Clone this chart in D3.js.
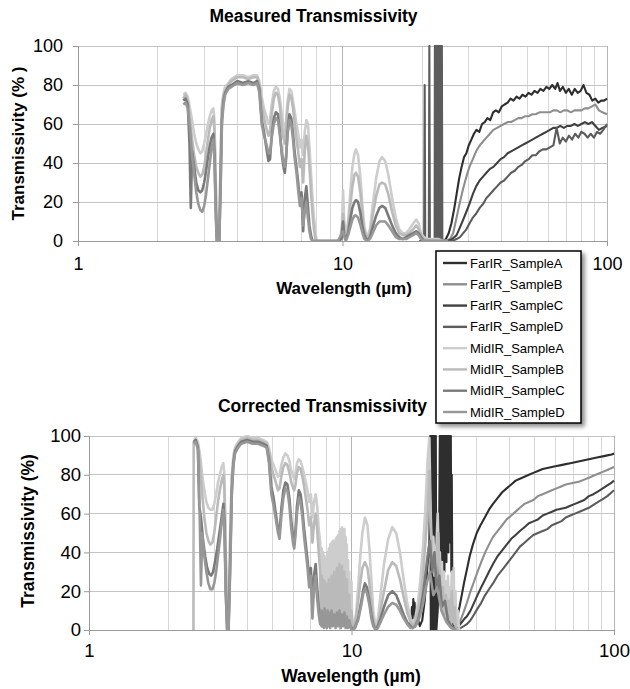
<!DOCTYPE html>
<html><head><meta charset="utf-8">
<script src="https://cdn.jsdelivr.net/npm/d3@7"></script>
<style>body{margin:0;background:#fff}svg{display:block}text{font-family:"Liberation Sans",Arial,sans-serif;fill:#000}</style>
</head><body><svg id="c" width="630" height="689"></svg>
<script>
// ---------------- DATA ----------------
const seriesNames = ["FarIR_SampleA","FarIR_SampleB","FarIR_SampleC","FarIR_SampleD","MidIR_SampleA","MidIR_SampleB","MidIR_SampleC","MidIR_SampleD"];
const xTickValues = [1, 10, 100];
const yTickValues = [0, 20, 40, 60, 80, 100];
const chartTitles = ["Measured Transmissivity", "Corrected Transmissivity"];
const xAxisTitle = "Wavelength (µm)";
const yAxisTitles = ["Transmissivity (% )", "Transmissivity (%)"];

// Measured: [wavelength µm, transmissivity %]
const measFarA = [[24.0,0],[24.6,1],[25.2,4],[25.8,9],[26.4,16],[27.0,24],[27.6,32],[28.2,38],[28.8,43],[29.4,45],[30.0,49],[30.7,52],[31.4,55],[32.1,57],[32.9,56],[33.7,60],[34.5,61],[35.3,63],[36.2,62],[37.1,66],[38.0,67],[39.0,66],[40.0,69],[41.0,70],[42.1,71],[43.2,73],[44.3,72],[45.5,74],[46.7,73],[47.9,75],[49.2,74],[50.5,76],[51.8,75],[53.2,77],[54.6,76],[56.0,78],[57.5,77],[59.0,79],[60.5,78],[62.1,80],[63.7,78],[65.0,81],[66.4,77],[68.1,79],[69.9,76],[71.7,78],[73.6,75],[75.5,78],[77.5,76],[79.5,77],[81.5,80],[83.6,76],[85.8,75],[88.0,72],[90.3,73],[92.7,71],[95.1,72],[97.5,72],[100,73]];
const measFarB = [[24.5,0],[25.5,1],[26.2,4],[27.0,12],[27.8,20],[28.6,27],[29.4,33],[30.2,38],[31.1,42],[32.0,46],[33.0,49],[34.0,51],[35.0,53],[36.1,55],[37.2,57],[38.4,58],[39.6,59],[40.8,60],[42.1,61],[43.4,61],[44.8,62],[46.2,63],[47.6,63],[49.1,64],[50.6,64],[52.2,65],[53.8,65],[55.5,66],[57.2,66],[59.0,66],[60.8,66],[62.7,67],[64.6,67],[66.6,66],[68.7,67],[70.8,67],[73.0,66],[75.3,67],[77.6,67],[80.0,67],[82.5,68],[85.0,68],[87.7,69],[90.4,70],[93.2,67],[96.1,66],[100,65]];
const measFarC = [[25,0],[26,1],[27,3],[27.8,7],[28.6,11],[29.4,15],[30.2,19],[31.1,24],[32,28],[33,31],[34,33],[35,35],[36.1,37],[37.2,38],[38.4,40],[39.6,42],[40.8,43],[42.1,45],[43.4,46],[44.8,47],[46.2,48],[47.6,49],[49.1,50],[50.6,51],[52.2,52],[53.8,53],[55.5,54],[57.2,55],[59,56],[60.8,57],[62.7,58],[64.6,58],[66.6,59],[68.7,58],[70.8,59],[73,59],[75.3,60],[77.6,59],[80,60],[82.5,61],[85,60],[87.7,61],[90.4,59],[93.2,57],[96.1,58],[100,59]];
const measFarD = [[19.5,0],[20.35,0],[20.45,80],[20.55,0],[21.2,0],[21.3,100],[21.4,0],[22.3,0],[22.35,100],[22.45,0],[22.55,100],[22.65,0],[22.75,100],[22.85,0],[22.95,100],[23.05,0],[23.15,100],[23.25,0],[23.35,100],[23.45,0],[23.55,100],[23.65,0],[23.75,100],[23.85,0],[25,0],[26,0],[27,1],[27.8,2],[28.6,4],[29.4,6],[30.2,9],[31.1,12],[32,14],[33,17],[34,19],[35,22],[36.1,24],[37.2,26],[38.4,28],[39.6,30],[40.8,31],[42.1,33],[43.4,35],[44.8,36],[46.2,38],[47.6,39],[49.1,41],[50.6,42],[52.2,44],[53.8,44],[55.5,46],[57.2,47],[59,47],[60.8,48],[62.7,49],[64.5,58],[66.3,50],[68,53],[69.9,51],[71.8,54],[73.8,52],[75.8,55],[77.9,53],[80,56],[82.2,55],[84.5,53],[86.8,55],[89.2,53],[91.7,56],[94.2,55],[96.8,57],[100,60]];
const measMidA = [[2.5,75],[2.55,76],[2.6,74],[2.65,68],[2.7,62],[2.75,55],[2.8,50],[2.85,47],[2.9,45],[2.95,46],[3.0,50],[3.05,55],[3.1,60],[3.15,64],[3.2,67],[3.25,68],[3.28,62],[3.32,30],[3.35,3],[3.38,0],[3.42,2],[3.46,45],[3.5,70],[3.55,76],[3.6,79],[3.7,81],[3.8,83],[3.9,84],[4.0,85],[4.2,85],[4.4,84],[4.6,85],[4.75,85],[4.85,82],[4.95,74],[5.05,68],[5.15,64],[5.25,60],[5.32,62],[5.4,70],[5.5,77],[5.6,79],[5.7,78],[5.8,73],[5.9,64],[6.0,58],[6.05,56],[6.12,62],[6.2,72],[6.3,78],[6.4,77],[6.5,72],[6.6,66],[6.7,60],[6.8,55],[6.9,48],[7.0,52],[7.1,44],[7.2,56],[7.3,62],[7.4,60],[7.5,48],[7.6,35],[7.7,22],[7.8,12],[7.9,4],[8.0,0],[9.6,0],[9.8,1],[9.95,8],[10.05,26],[10.15,10],[10.3,3],[10.5,10],[10.7,25],[10.9,38],[11.1,45],[11.25,47],[11.45,44],[11.7,32],[11.9,18],[12.1,7],[12.4,2],[12.7,6],[13.0,18],[13.4,32],[13.8,41],[14.1,43],[14.5,41],[14.9,34],[15.4,22],[15.9,12],[16.4,6],[16.9,4],[17.4,4],[17.9,6],[18.5,9],[19.0,11],[19.4,9],[19.8,4],[20.3,2],[21,1],[22,1],[23,1],[24,0],[25,0]];
const measMidB = [[2.5,73],[2.55,75],[2.6,72],[2.65,62],[2.7,52],[2.75,44],[2.8,38],[2.85,35],[2.9,33],[2.95,34],[3.0,38],[3.05,45],[3.1,52],[3.15,58],[3.2,62],[3.25,64],[3.28,56],[3.32,25],[3.35,2],[3.38,0],[3.42,1],[3.46,40],[3.5,68],[3.55,74],[3.6,77],[3.7,80],[3.8,82],[3.9,83],[4.0,84],[4.2,84],[4.4,83],[4.6,84],[4.75,84],[4.85,80],[4.95,70],[5.05,63],[5.15,58],[5.25,54],[5.32,56],[5.4,65],[5.5,73],[5.6,76],[5.7,75],[5.8,69],[5.9,58],[6.0,52],[6.05,50],[6.12,57],[6.2,68],[6.3,75],[6.4,74],[6.5,68],[6.6,60],[6.7,52],[6.8,46],[6.9,38],[7.0,42],[7.1,30],[7.2,46],[7.3,54],[7.4,50],[7.5,38],[7.6,25],[7.7,14],[7.8,6],[7.9,1],[8.0,0],[9.6,0],[9.9,2],[10.05,14],[10.15,5],[10.3,2],[10.5,7],[10.7,18],[10.9,28],[11.1,34],[11.25,35],[11.45,33],[11.7,24],[11.9,13],[12.1,5],[12.4,1],[12.7,4],[13.0,13],[13.4,23],[13.8,29],[14.1,30],[14.5,29],[14.9,24],[15.4,15],[15.9,8],[16.4,4],[16.9,3],[17.4,3],[17.9,4],[18.5,6],[19.0,8],[19.4,6],[19.8,3],[20.3,1],[22,0],[25,0]];
const measMidC = [[2.5,72],[2.55,73],[2.6,70],[2.64,50],[2.67,17],[2.7,46],[2.75,38],[2.8,30],[2.85,26],[2.9,25],[2.95,26],[3.0,30],[3.05,36],[3.1,43],[3.15,49],[3.2,53],[3.25,55],[3.28,45],[3.32,15],[3.35,0],[3.42,0],[3.46,30],[3.5,62],[3.55,72],[3.6,76],[3.7,79],[3.8,80],[3.9,81],[4.0,82],[4.2,81],[4.4,82],[4.6,81],[4.75,82],[4.85,78],[4.95,62],[5.05,56],[5.15,48],[5.25,41],[5.32,42],[5.4,54],[5.5,63],[5.6,66],[5.7,65],[5.8,56],[5.9,44],[6.0,37],[6.05,35],[6.12,42],[6.2,56],[6.3,65],[6.4,63],[6.5,55],[6.6,45],[6.7,38],[6.8,30],[6.9,20],[7.0,25],[7.1,5],[7.2,22],[7.3,28],[7.4,18],[7.5,8],[7.6,3],[7.7,0],[9.6,0],[9.9,1],[10.05,10],[10.15,3],[10.3,1],[10.5,4],[10.7,11],[10.9,17],[11.1,20],[11.25,21],[11.45,20],[11.7,14],[11.9,7],[12.1,3],[12.4,0],[12.7,2],[13.0,7],[13.4,13],[13.8,17],[14.1,18],[14.5,17],[14.9,13],[15.4,8],[15.9,4],[16.4,2],[16.9,1],[17.4,2],[17.9,3],[18.5,4],[19.0,5],[19.4,4],[19.8,2],[20.3,0],[25,0]];
const measMidD = [[2.5,70],[2.55,71],[2.6,68],[2.65,58],[2.7,44],[2.75,34],[2.8,25],[2.85,19],[2.9,16],[2.95,15],[3.0,18],[3.05,24],[3.1,32],[3.15,40],[3.2,48],[3.25,52],[3.28,42],[3.32,12],[3.35,0],[3.42,0],[3.46,25],[3.5,60],[3.55,70],[3.6,75],[3.7,78],[3.8,79],[3.9,80],[4.0,81],[4.2,80],[4.4,81],[4.6,80],[4.75,81],[4.85,76],[4.95,60],[5.05,54],[5.15,50],[5.25,45],[5.32,45],[5.4,53],[5.5,60],[5.6,63],[5.7,62],[5.8,54],[5.9,45],[6.0,40],[6.05,38],[6.12,44],[6.2,55],[6.3,62],[6.4,60],[6.5,52],[6.6,42],[6.7,35],[6.8,26],[6.9,18],[7.0,22],[7.1,8],[7.2,15],[7.3,20],[7.4,12],[7.5,5],[7.6,1],[7.7,0],[9.6,0],[10.05,5],[10.15,2],[10.3,0],[10.5,3],[10.7,7],[10.9,11],[11.1,13],[11.25,13],[11.45,12],[11.7,8],[11.9,4],[12.1,1],[12.4,0],[12.7,1],[13.0,4],[13.4,8],[13.8,10],[14.1,10],[14.5,10],[14.9,8],[15.4,5],[15.9,2],[16.4,1],[16.9,1],[17.4,1],[17.9,2],[18.5,3],[19.0,4],[19.4,3],[19.8,1],[20.3,0],[25,0]];

// Corrected: [wavelength µm, transmissivity %]
const corrFarA = [[16.8,3],[17.0,12],[17.1,6],[17.2,16],[17.3,8],[17.4,14],[17.5,5],[17.6,10],[17.7,3],[17.9,6],[18.2,2],[18.6,5],[19.0,15],[19.4,30],[19.8,46],[19.95,100],[20.05,0],[20.15,100],[20.25,0],[20.35,100],[20.45,0],[20.55,100],[20.65,0],[20.75,100],[20.85,0],[20.95,100],[21.05,0],[21.3,10],[21.5,25],[21.7,100],[21.8,20],[21.9,100],[22.0,35],[22.1,100],[22.2,25],[22.3,100],[22.4,40],[22.5,100],[22.6,30],[22.7,100],[22.8,45],[22.9,100],[23.0,35],[23.1,100],[23.2,50],[23.3,100],[23.4,40],[23.5,100],[23.6,55],[23.7,100],[23.8,45],[23.9,100],[24.0,30],[24.1,80],[24.25,5],[24.5,2],[25,4],[25.3,7],[25.8,12],[26.3,18],[26.9,25],[27.5,31],[28.2,38],[29,44],[30,50],[31,54],[32.2,58],[33.4,62],[34.6,65],[36,68],[37.5,71],[39,73],[40.6,75],[42.2,77],[43.8,78],[45.6,79],[47.4,80],[49.3,81],[51.3,82],[53.5,83],[55.7,83.5],[58,84],[60.4,84.5],[62.9,85],[65.5,85.5],[68.2,86],[71,86.5],[73.9,87],[77,87.5],[80.2,88],[83.5,88.5],[87,89],[90.6,89.5],[94.3,90],[98,90.5],[100,91]];
const corrFarB = [[24.3,0],[25,1],[25.5,3],[26,5],[26.7,9],[27.5,14],[28.4,20],[29.3,25],[30.2,30],[31.2,35],[32.3,40],[33.4,44],[34.6,48],[36,51],[37.5,54],[39,57],[40.6,59],[42.2,61],[43.8,63],[45.6,65],[47.4,66],[49.3,67],[51.3,69],[53.5,70],[55.7,71],[58,72],[60.4,73],[62.9,74],[65.5,75],[68.2,75.5],[71,76],[73.9,76.5],[77,77.5],[80.2,78.5],[83.5,79.5],[87,80.5],[90.6,81.5],[94.3,82.5],[98,83.5],[100,84]];
const corrFarC = [[24.3,0],[25,1],[25.6,2],[26.3,4],[27,6],[27.5,7],[28.4,10],[29.3,14],[30.2,18],[31.2,22],[32.3,26],[33.4,30],[34.6,34],[36,38],[37.5,41],[39,44],[40.6,47],[42.2,49],[43.8,51],[45.6,53],[47.4,55],[49.3,56],[51.3,57],[53.5,59],[55.7,60],[58,61],[60.4,62],[62.9,62.5],[65.5,63],[68.2,64],[71,65],[73.9,66],[77,67],[80.2,69],[83.5,70],[87,71.5],[90.6,73],[94.3,74.5],[98,76],[100,77]];
const corrFarD = [[24.5,0],[25.3,0],[26,1],[26.8,2],[27.5,3],[28.4,5],[29.3,8],[30.2,11],[31.2,14],[32.3,18],[33.4,21],[34.6,24],[36,28],[37.5,31],[39,34],[40.6,37],[42.2,40],[43.8,43],[45.6,45],[47.4,47],[49.3,49],[51.3,50],[53.5,51],[55.7,52],[58,54],[60.4,55],[62.9,56],[65.5,58],[68.2,59],[71,60],[73.9,61],[77,62],[80.2,63],[83.5,64.5],[87,66],[90.6,67.5],[94.3,69],[98,71],[100,72]];
const corrMidA = [[2.505,98],[2.55,99],[2.6,97],[2.65,90],[2.7,80],[2.75,72],[2.8,66],[2.85,63],[2.9,62],[2.95,62],[3.0,65],[3.05,70],[3.1,76],[3.15,80],[3.2,84],[3.25,86],[3.28,80],[3.32,40],[3.36,5],[3.4,2],[3.45,50],[3.5,80],[3.55,90],[3.6,94],[3.7,97],[3.8,99],[4.0,100],[4.2,99],[4.4,99],[4.6,98],[4.75,97],[4.85,94],[4.95,88],[5.05,85],[5.15,82],[5.25,79],[5.32,80],[5.4,85],[5.5,89],[5.6,91],[5.7,90],[5.8,87],[5.9,82],[6.0,79],[6.05,78],[6.12,81],[6.2,86],[6.3,88],[6.4,87],[6.5,84],[6.6,80],[6.7,76],[6.8,72],[6.9,66],[7.0,70],[7.1,58],[7.2,66],[7.3,70],[7.4,64],[7.5,52],[7.6,45],[7.65,15],[7.7,42],[7.75,10],[7.8,40],[7.85,8],[7.9,38],[7.95,12],[8.0,36],[8.05,6],[8.1,40],[8.15,9],[8.2,42],[8.25,5],[8.3,44],[8.35,10],[8.4,45],[8.45,4],[8.5,46],[8.55,12],[8.6,44],[8.65,6],[8.7,47],[8.75,10],[8.8,48],[8.85,5],[8.9,49],[8.95,12],[9.0,51],[9.05,6],[9.1,52],[9.15,10],[9.2,53],[9.25,4],[9.3,50],[9.35,12],[9.4,52],[9.45,6],[9.5,48],[9.55,14],[9.6,44],[9.65,4],[9.7,36],[9.75,8],[9.8,30],[9.85,2],[9.9,20],[9.95,1],[10.0,25],[10.05,3],[10.2,2],[10.4,8],[10.6,22],[10.8,38],[11.0,50],[11.25,58],[11.5,54],[11.7,42],[11.9,26],[12.1,10],[12.35,2],[12.6,6],[12.9,18],[13.3,34],[13.8,47],[14.3,53],[14.8,50],[15.3,40],[15.8,26],[16.3,14],[16.8,6],[17.1,3],[17.5,6],[17.9,14],[18.3,26],[18.7,42],[19.1,62],[19.5,88],[19.8,99],[19.95,70],[20.2,40],[20.5,48],[20.8,30],[21.1,45],[21.3,60],[21.5,35],[21.7,40],[21.9,15],[22.1,35],[22.3,10],[22.5,30],[22.7,8],[22.9,25],[23.1,5],[23.3,28],[23.5,6],[23.7,22],[23.9,4],[24.1,30],[24.3,5],[24.5,32],[24.7,3],[24.9,20],[25.1,2],[25.4,10],[25.7,0]];
const corrMidB = [[2.5,0],[2.505,97],[2.55,98],[2.6,95],[2.65,84],[2.7,70],[2.75,58],[2.8,50],[2.85,46],[2.9,44],[2.95,45],[3.0,50],[3.05,58],[3.1,66],[3.15,72],[3.2,77],[3.25,80],[3.28,72],[3.32,35],[3.36,3],[3.4,1],[3.45,45],[3.5,78],[3.55,88],[3.6,93],[3.7,96],[3.8,98],[4.0,99],[4.2,98],[4.4,98],[4.6,97],[4.75,96],[4.85,92],[4.95,84],[5.05,80],[5.15,76],[5.25,72],[5.32,73],[5.4,79],[5.5,84],[5.6,86],[5.7,85],[5.8,81],[5.9,76],[6.0,73],[6.05,72],[6.12,75],[6.2,81],[6.3,84],[6.4,83],[6.5,79],[6.6,74],[6.7,68],[6.8,62],[6.9,54],[7.0,58],[7.1,45],[7.2,55],[7.3,60],[7.4,52],[7.5,40],[7.6,30],[7.65,8],[7.7,28],[7.75,5],[7.8,26],[7.85,4],[7.9,25],[7.95,6],[8.0,24],[8.1,4],[8.2,26],[8.3,5],[8.4,28],[8.5,3],[8.6,30],[8.7,6],[8.8,32],[8.9,4],[9.0,34],[9.1,5],[9.2,33],[9.3,3],[9.4,30],[9.5,6],[9.6,26],[9.7,2],[9.8,18],[9.9,1],[10.0,10],[10.1,1],[10.3,3],[10.5,10],[10.8,24],[11.0,32],[11.25,35],[11.5,32],[11.7,24],[11.9,14],[12.1,5],[12.35,1],[12.6,3],[12.9,10],[13.3,20],[13.8,31],[14.3,35],[14.8,33],[15.3,26],[15.8,17],[16.3,9],[16.8,4],[17.1,2],[17.5,4],[17.9,9],[18.3,17],[18.7,28],[19.1,44],[19.5,62],[19.8,82],[20.0,55],[20.3,35],[20.7,28],[21.1,38],[21.4,50],[21.7,25],[22,12],[22.3,22],[22.6,8],[22.9,18],[23.2,5],[23.5,15],[23.8,3],[24.1,20],[24.4,4],[24.7,12],[25,1],[25.5,0]];
const corrMidC = [[2.505,97],[2.55,98],[2.6,94],[2.63,64],[2.67,58],[2.72,46],[2.77,38],[2.82,32],[2.87,29],[2.92,28],[2.97,30],[3.02,35],[3.08,42],[3.14,50],[3.2,58],[3.25,65],[3.28,56],[3.32,20],[3.36,0],[3.4,0],[3.45,35],[3.5,72],[3.55,86],[3.6,92],[3.7,95],[3.8,97],[4.0,98],[4.2,97],[4.4,97],[4.6,96],[4.75,95],[4.85,88],[4.95,74],[5.05,68],[5.15,60],[5.25,52],[5.32,50],[5.4,62],[5.5,72],[5.6,76],[5.7,75],[5.8,68],[5.9,56],[6.0,47],[6.05,44],[6.12,52],[6.2,64],[6.3,72],[6.4,70],[6.5,62],[6.6,52],[6.7,44],[6.8,36],[6.9,26],[7.0,32],[7.1,12],[7.2,28],[7.3,34],[7.4,22],[7.5,12],[7.6,5],[7.7,2],[7.8,6],[8,2],[8.5,4],[9,3],[9.5,5],[10,1],[10.3,1],[10.6,6],[10.9,15],[11.1,21],[11.25,24],[11.45,22],[11.7,15],[11.9,8],[12.1,3],[12.35,0],[12.6,2],[12.9,6],[13.3,12],[13.8,18],[14.3,20],[14.8,18],[15.3,13],[15.8,8],[16.3,4],[16.8,2],[17.1,1],[17.5,2],[17.9,5],[18.3,10],[18.7,18],[19.1,28],[19.5,38],[19.9,46],[20.3,30],[20.7,40],[21.1,20],[21.6,28],[22.1,12],[22.7,15],[23.3,5],[24,2],[25,0]];
const corrMidD = [[2.505,96],[2.55,97],[2.6,93],[2.64,60],[2.67,23],[2.7,50],[2.75,38],[2.8,30],[2.85,24],[2.9,21],[2.95,21],[3.0,24],[3.05,30],[3.1,38],[3.15,46],[3.2,55],[3.25,62],[3.28,52],[3.32,18],[3.36,0],[3.4,0],[3.45,30],[3.5,70],[3.55,85],[3.6,91],[3.7,94],[3.8,96],[4.0,97],[4.2,96],[4.4,96],[4.6,95],[4.75,94],[4.85,86],[4.95,70],[5.05,64],[5.15,57],[5.25,50],[5.32,47],[5.4,58],[5.5,68],[5.6,73],[5.7,72],[5.8,64],[5.9,52],[6.0,44],[6.05,42],[6.12,49],[6.2,60],[6.3,68],[6.4,66],[6.5,58],[6.6,48],[6.7,40],[6.8,32],[6.9,22],[7.0,28],[7.1,6],[7.2,22],[7.3,28],[7.4,16],[7.5,8],[7.6,3],[7.7,10],[7.75,2],[7.8,9],[7.85,1],[7.9,11],[7.95,3],[8.0,8],[8.05,1],[8.1,10],[8.15,2],[8.2,9],[8.3,1],[8.4,10],[8.5,2],[8.6,8],[8.7,1],[8.8,9],[8.9,2],[9.0,10],[9.1,1],[9.2,8],[9.3,2],[9.4,9],[9.5,1],[9.6,7],[9.7,1],[9.8,5],[10,0],[10.3,1],[10.6,5],[10.9,13],[11.1,19],[11.25,21],[11.45,19],[11.7,13],[11.9,6],[12.1,2],[12.35,0],[12.6,1],[12.9,4],[13.3,8],[13.8,12],[14.3,14],[14.8,13],[15.3,10],[15.8,6],[16.3,3],[16.8,1],[17.1,1],[17.5,2],[17.9,4],[18.3,8],[18.7,13],[19.1,20],[19.5,26],[19.9,30],[20.5,18],[21.2,22],[22,10],[23,4],[24,1],[25,0]];

const measuredSeries = [measFarA, measFarB, measFarC, measFarD, measMidA, measMidB, measMidC, measMidD];
const correctedSeries = [corrFarA, corrFarB, corrFarC, corrFarD, corrMidA, corrMidB, corrMidC, corrMidD];

// ---------------- DRAWING ----------------
const svg = d3.select("#c");
const color = d3.scaleOrdinal(seriesNames, ["#2e2e2e","#8e8e8e","#404040","#5c5c5c","#cdcdcd","#bababa","#7a7a7a","#979797"]);
const strokeW = d3.scaleOrdinal(seriesNames, [2.1,2.1,2.1,2.1,2.6,2.6,2.6,2.6]);

const defs = svg.append("defs");
const shadow = defs.append("filter").attr("id","shadow").attr("x","-10%").attr("y","-10%").attr("width","130%").attr("height","130%");
shadow.append("feDropShadow").attr("dx",3).attr("dy",3).attr("stdDeviation",2).attr("flood-color","#000").attr("flood-opacity",0.45);

const charts = [
  {left:78, right:607, top:46, bottom:241, tickFont:18, yPad:10, xPad:11, titleX:313.5, titleY:22, titleSize:17.5,
   xtX:344, xtY:294, xtSize:17, ytX:24, ytY:143.5, ytSize:17, series:measuredSeries, idx:0},
  {left:89, right:614, top:436, bottom:630, tickFont:18.5, yPad:3, xPad:9, titleX:322.5, titleY:412, titleSize:17.5,
   xtX:351, xtY:682, xtSize:17.5, ytX:34, ytY:531, ytSize:17.5, series:correctedSeries, idx:1}
];

charts.forEach(cfg => {
  const x = d3.scaleLog().domain([1,100]).range([cfg.left, cfg.right]);
  const y = d3.scaleLinear().domain([0,100]).range([cfg.bottom, cfg.top]);
  const g = svg.append("g");

  const vt = x.ticks().filter(v => v > 1);
  g.append("g").selectAll("line").data(vt).join("line")
    .attr("x1", d => x(d)).attr("x2", d => x(d))
    .attr("y1", cfg.top).attr("y2", cfg.bottom)
    .attr("stroke", d => (d === 10 || d === 100) ? "#b4b4b4" : "#d8d8d8")
    .attr("stroke-width", 1).attr("shape-rendering","crispEdges");

  g.append("g").selectAll("line").data(yTickValues.filter(v => v > 0)).join("line")
    .attr("x1", cfg.left).attr("x2", cfg.right)
    .attr("y1", d => y(d)).attr("y2", d => y(d))
    .attr("stroke", "#c4c4c4").attr("stroke-width", 1).attr("shape-rendering","crispEdges");

  const ya = g.append("g").attr("transform", `translate(${cfg.left},0)`)
    .call(d3.axisLeft(y).tickValues(yTickValues).tickSize(5).tickPadding(cfg.yPad));
  ya.select(".domain").attr("stroke","#9a9a9a");
  ya.selectAll(".tick line").attr("stroke","#9a9a9a");
  ya.selectAll("text").attr("font-size", cfg.tickFont).attr("fill","#111").style("font-family","'Liberation Sans',Arial,sans-serif");

  const xa = g.append("g").attr("transform", `translate(0,${cfg.bottom})`)
    .call(d3.axisBottom(x).tickValues(xTickValues).tickFormat(d3.format("d")).tickSize(5).tickPadding(cfg.xPad));
  xa.select(".domain").attr("stroke","#9a9a9a");
  xa.selectAll(".tick line").attr("stroke","#9a9a9a");
  xa.selectAll("text").attr("font-size", cfg.tickFont).attr("fill","#111").style("font-family","'Liberation Sans',Arial,sans-serif");

  const cid = "clip" + cfg.idx;
  defs.append("clipPath").attr("id", cid).append("rect")
    .attr("x", cfg.left).attr("y", cfg.top - 1).attr("width", cfg.right - cfg.left + 1).attr("height", cfg.bottom - cfg.top + 1);

  const line = d3.line().x(d => x(d[0])).y(d => y(d[1]));
  g.append("g").attr("clip-path", `url(#${cid})`)
    .selectAll("path").data(cfg.series.map((s, i) => ({name: seriesNames[i], values: s}))).join("path")
    .attr("d", d => line(d.values))
    .attr("fill","none")
    .attr("stroke", d => color(d.name))
    .attr("stroke-width", d => strokeW(d.name))
    .attr("stroke-linejoin","round");

  g.append("text").attr("x", cfg.titleX).attr("y", cfg.titleY).attr("text-anchor","middle")
    .attr("font-size", cfg.titleSize).attr("font-weight","bold").text(chartTitles[cfg.idx]);
  g.append("text").attr("x", cfg.xtX).attr("y", cfg.xtY).attr("text-anchor","middle")
    .attr("font-size", cfg.xtSize).attr("font-weight","bold").text(xAxisTitle);
  g.append("text").attr("transform", `translate(${cfg.ytX},${cfg.ytY}) rotate(-90)`).attr("text-anchor","middle")
    .attr("font-size", cfg.ytSize).attr("font-weight","bold").text(yAxisTitles[cfg.idx]);
});

// Legend
const lg = svg.append("g").attr("transform","translate(436,251)");
lg.append("rect").attr("width",145).attr("height",172).attr("fill","#fff")
  .attr("stroke","#000").attr("stroke-width",1.5).attr("filter","url(#shadow)");
const ly = d3.scalePoint().domain(seriesNames).range([12, 161]);
const items = lg.selectAll("g.item").data(seriesNames).join("g").attr("class","item")
  .attr("transform", d => `translate(0,${ly(d)})`);
items.append("line").attr("x1",7).attr("x2",31).attr("y1",0).attr("y2",0)
  .attr("stroke", d => color(d)).attr("stroke-width",2.4);
items.append("text").attr("x",34).attr("y",4.6).attr("font-size",13).attr("fill","#111").text(d => d);
</script>
</body></html>
